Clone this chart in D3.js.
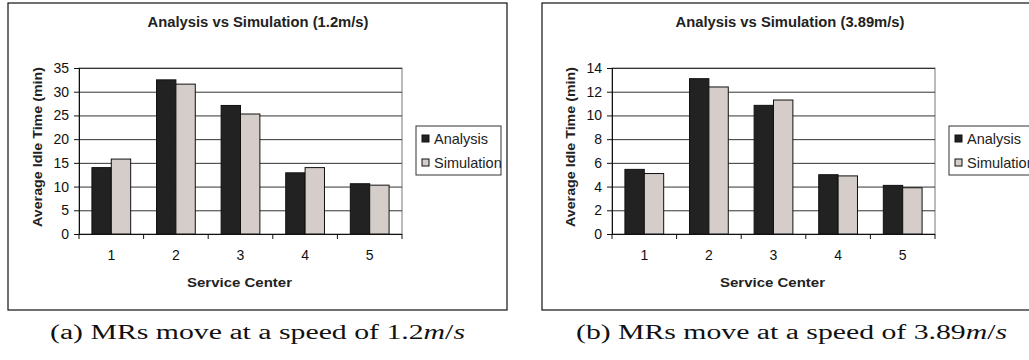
<!DOCTYPE html>
<html>
<head>
<meta charset="utf-8">
<script src="https://d3js.org/d3.v7.min.js"></script>
<style>
  body { margin: 0; background: #fff; }
  svg { display: block; }
  .sans { font-family: "Liberation Sans", Arial, sans-serif; }
  .serif { font-family: "Liberation Serif", "Times New Roman", serif; }
</style>
</head>
<body>
<svg id="chart" width="1029" height="360"></svg>
<script>
// data
const centers = ["1", "2", "3", "4", "5"];
const seriesNames = ["Analysis", "Simulation"];

const analysisSlow = [14.0, 32.5, 27.1, 12.9, 10.6];
const simulationSlow = [15.8, 31.6, 25.3, 14.0, 10.3];
const ticksSlow = [0, 5, 10, 15, 20, 25, 30, 35];

const analysisFast = [5.45, 13.1, 10.85, 5.0, 4.1];
const simulationFast = [5.1, 12.4, 11.3, 4.9, 3.9];
const ticksFast = [0, 2, 4, 6, 8, 10, 12, 14];

const colors = { "Analysis": "#222222", "Simulation": "#d4cdca" };

const svg = d3.select("#chart");

function drawPanel(opts) {
    const g = svg.append("g");

    // outer frame
    g.append("rect")
        .attr("x", opts.boxX).attr("y", 3)
        .attr("width", opts.boxW).attr("height", 307)
        .attr("fill", "none").attr("stroke", "#111").attr("stroke-width", 1.2);

    const pl = opts.plotLeft, pt = 68, pw = 323, ph = 166;
    const plot = g.append("g").attr("transform", `translate(${pl},${pt})`);

    const x0 = d3.scaleBand().domain(centers).range([0, pw]);
    const x1 = d3.scaleBand().domain(seriesNames)
        .range([x0.bandwidth() * 0.2, x0.bandwidth() * 0.8]);
    const y = d3.scaleLinear().domain([0, d3.max(opts.ticks)]).range([ph, 0]);

    // plot border (top/right)
    plot.append("rect")
        .attr("x", 0).attr("y", 0).attr("width", pw).attr("height", ph)
        .attr("fill", "none").attr("stroke", "#777").attr("stroke-width", 1);

    // gridlines
    plot.selectAll(".grid").data(opts.ticks.slice(1)).enter()
        .append("line")
        .attr("x1", 0).attr("x2", pw)
        .attr("y1", d => y(d) + 0.5).attr("y2", d => y(d) + 0.5)
        .attr("stroke", "#333").attr("stroke-width", 1);

    // bars
    const rows = centers.map((c, i) => ({ c: c, vals: [
        { s: "Analysis", v: opts.analysis[i] },
        { s: "Simulation", v: opts.simulation[i] }] }));

    plot.selectAll(".grp").data(rows).enter()
        .append("g")
        .attr("transform", d => `translate(${x0(d.c)},0)`)
        .selectAll("rect").data(d => d.vals).enter()
        .append("rect")
        .attr("x", d => x1(d.s))
        .attr("y", d => y(d.v))
        .attr("width", x1.bandwidth())
        .attr("height", d => ph - y(d.v))
        .attr("fill", d => colors[d.s])
        .attr("stroke", "#111").attr("stroke-width", 1);

    // y axis
    const yAxis = d3.axisLeft(y).tickValues(opts.ticks).tickSize(5).tickPadding(5);
    const ya = plot.append("g").call(yAxis);
    ya.select(".domain").attr("stroke", "#111").attr("d", `M0.5,0V${ph}`);
    ya.selectAll(".tick line").attr("stroke", "#111");
    ya.selectAll("text").attr("font-size", 14).attr("fill", "#111")
        .attr("font-family", "Liberation Sans, Arial, sans-serif");

    // x axis: ticks on category boundaries
    const xa = plot.append("g").attr("transform", `translate(0,${ph})`);
    xa.append("line").attr("x1", 0).attr("x2", pw).attr("y1", 0.5).attr("y2", 0.5)
        .attr("stroke", "#111").attr("stroke-width", 1.2);
    const bounds = centers.map(c => x0(c)).concat([pw]);
    xa.selectAll(".xt").data(bounds).enter()
        .append("line")
        .attr("x1", d => d).attr("x2", d => d)
        .attr("y1", 0).attr("y2", 5)
        .attr("stroke", "#111");
    xa.selectAll(".xl").data(centers).enter()
        .append("text")
        .attr("class", "sans")
        .attr("x", d => x0(d) + x0.bandwidth() / 2)
        .attr("y", 26)
        .attr("text-anchor", "middle")
        .attr("font-size", 14).attr("fill", "#111")
        .text(d => d);

    // title
    g.append("text").attr("class", "sans")
        .attr("x", opts.titleX).attr("y", 27)
        .attr("text-anchor", "middle")
        .attr("font-size", 14).attr("font-weight", "bold").attr("fill", "#222")
        .attr("textLength", opts.titleW).attr("lengthAdjust", "spacingAndGlyphs")
        .text(opts.title);

    // axis titles
    g.append("text").attr("class", "sans")
        .attr("x", pl + pw / 2 - 1).attr("y", 287)
        .attr("text-anchor", "middle")
        .attr("font-size", 13.5).attr("font-weight", "bold").attr("fill", "#222")
        .attr("textLength", 105).attr("lengthAdjust", "spacingAndGlyphs")
        .text("Service Center");

    g.append("text").attr("class", "sans")
        .attr("transform", `translate(${pl - 37},${pt + ph / 2 - 4}) rotate(-90)`)
        .attr("text-anchor", "middle")
        .attr("font-size", 13.5).attr("font-weight", "bold").attr("fill", "#222")
        .attr("textLength", 160).attr("lengthAdjust", "spacingAndGlyphs")
        .text("Average Idle Time (min)");

    // legend
    const lg = g.append("g").attr("transform", `translate(${pl + pw + 14},126)`);
    lg.append("rect").attr("x", 0).attr("y", 0)
        .attr("width", 85).attr("height", 49)
        .attr("fill", "#fff").attr("stroke", "#333").attr("stroke-width", 1);
    seriesNames.forEach((s, i) => {
        lg.append("rect")
            .attr("x", 6).attr("y", 9 + i * 24)
            .attr("width", 7).attr("height", 7)
            .attr("fill", colors[s]).attr("stroke", "#111").attr("stroke-width", 1);
        lg.append("text").attr("class", "sans")
            .attr("x", 18).attr("y", 17.5 + i * 24)
            .attr("font-size", 14.5).attr("fill", "#222")
            .text(s);
    });

    // caption
    const cap = svg.append("text").attr("class", "serif")
        .attr("x", opts.capX).attr("y", 339)
        .attr("font-size", 20).attr("fill", "#111")
        .attr("textLength", opts.capW).attr("lengthAdjust", "spacingAndGlyphs");
    cap.append("tspan").text(opts.caption);
    cap.append("tspan").attr("font-style", "italic").text("m");
    cap.append("tspan").text("/");
    cap.append("tspan").attr("font-style", "italic").text("s");
}

drawPanel({
    boxX: 8, boxW: 499, plotLeft: 79,
    analysis: analysisSlow, simulation: simulationSlow, ticks: ticksSlow,
    title: "Analysis vs Simulation (1.2m/s)", titleX: 258, titleW: 221,
    caption: "(a) MRs move at a speed of 1.2", capX: 50, capW: 415
});

drawPanel({
    boxX: 542, boxW: 520, plotLeft: 612,
    analysis: analysisFast, simulation: simulationFast, ticks: ticksFast,
    title: "Analysis vs Simulation (3.89m/s)", titleX: 790, titleW: 229,
    caption: "(b) MRs move at a speed of 3.89", capX: 576, capW: 431
});
</script>
</body>
</html>
